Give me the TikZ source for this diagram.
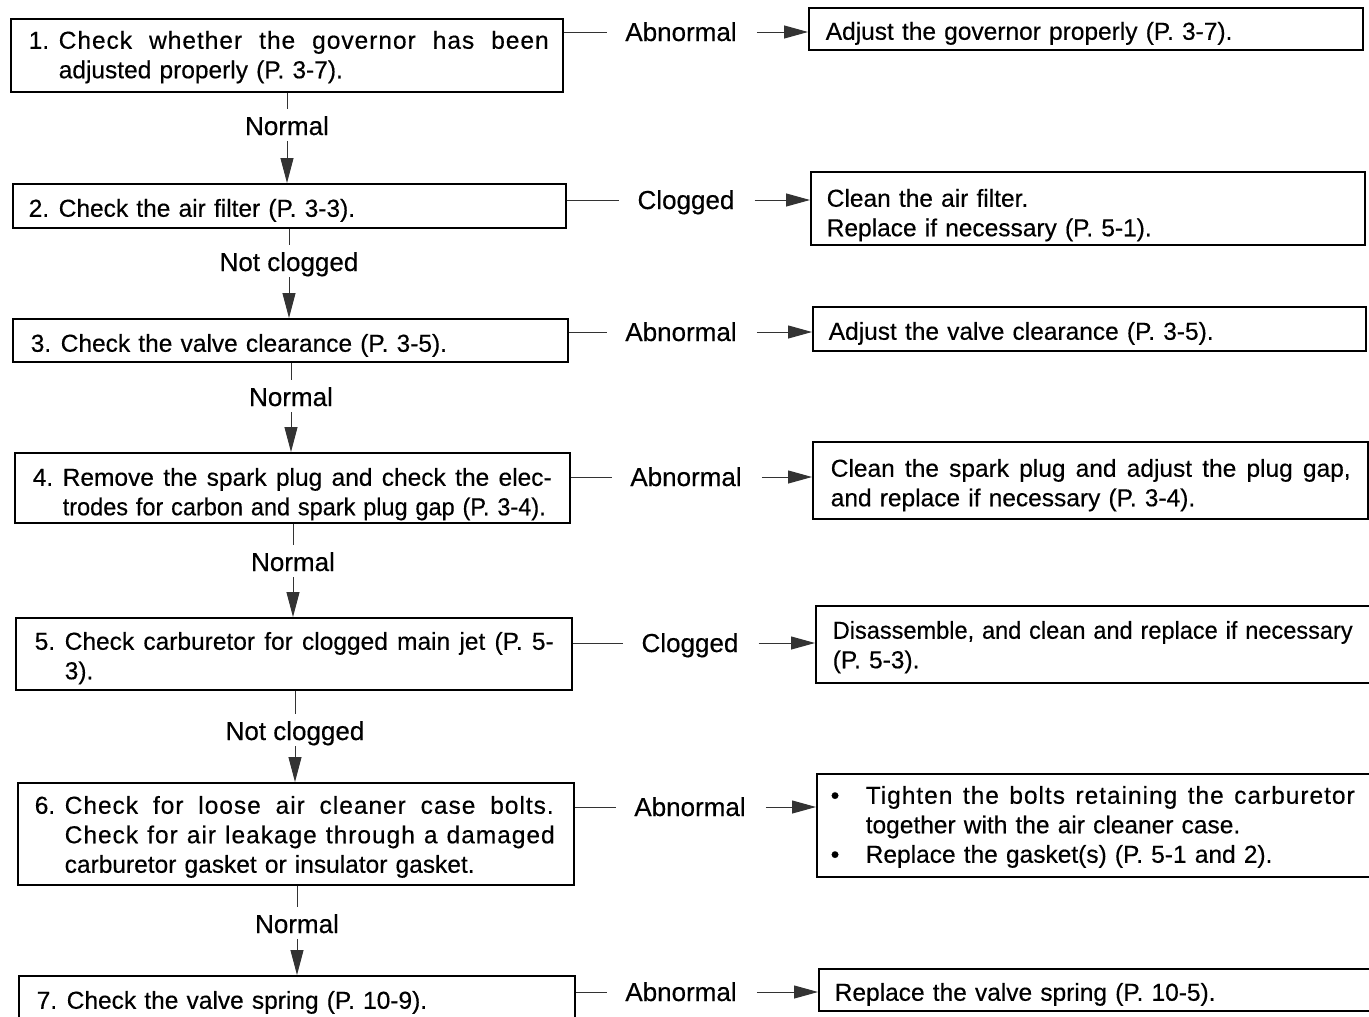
\documentclass[tikz,border=0pt]{standalone}
\usepackage{fontspec}
\setmainfont{Liberation Sans}
\newfontfamily\tf{Liberation Sans}[FakeBold=0.4]
\usetikzlibrary{arrows.meta}
\newcommand\fs{\tf\fontsize{24.5}{29.5}\selectfont}
\newcommand\fl{\tf\fontsize{26}{30}\selectfont}
\newcommand\numitem[2]{\makebox[30pt][l]{#1}\begin{tabular}[t]{@{}l@{}}#2\end{tabular}}
\newcommand\J[2]{{\spaceskip=0.278em plus 1fil\relax\xspaceskip=\spaceskip\hbox to #1pt{#2}}}
\newcommand\LS[1]{{\addfontfeature{LetterSpace=4}#1}}
\newcommand\F[2]{\resizebox{#1pt}{\height}{#2}}
\newcommand\bul{\makebox[35pt][l]{\textbullet}}
\begin{document}
\begin{tikzpicture}[x=1pt,y=-1pt,
  box/.style={draw, line width=1.5pt, rectangle, anchor=north west, inner sep=0pt, align=left, font=\fs},
  lab/.style={inner sep=0pt, text height=18pt, text depth=0pt, font=\fl},
  conn/.style={draw=black!80, line width=1pt},
  harr/.style={conn, -{Triangle[length=24pt,width=13pt]}},
  varr/.style={conn, -{Triangle[length=25pt,width=13pt]}}]
\useasboundingbox (0,0) rectangle (1369,1017);
\clip (0,0) rectangle (1369,1017);
\fill[white] (0,0) rectangle (1369,1017);

% left boxes
\node[box, text width=552pt, text height=30pt, text depth=43pt] (b1) at (10,18)
  {\hspace*{18pt}\numitem{1.}{\J{490}{\LS{Check whether the governor has been}}\\adjusted properly (P. 3-7).}};
\node[box, text width=553pt, text height=33pt, text depth=11pt] (b2) at (12,183)
  {\hspace*{16pt}\numitem{2.}{Check the air filter (P. 3-3).}};
\node[box, text width=555pt, text height=33pt, text depth=10pt] (b3) at (12,318)
  {\hspace*{18pt}\numitem{3.}{Check the valve clearance (P. 3-5).}};
\node[box, text width=555pt, text height=33pt, text depth=37pt] (b4) at (14,452)
  {\hspace*{18pt}\numitem{4.}{\J{489}{Remove the spark plug and check the elec-}\\\F{483}{trodes for carbon and spark plug gap (P. 3-4).}}};
\node[box, text width=556pt, text height=32pt, text depth=40pt] (b5) at (15,617)
  {\hspace*{19pt}\numitem{5.}{\J{489}{Check carburetor for clogged main jet (P. 5-}\\3).}};
\node[box, text width=556pt, text height=31pt, text depth=71pt] (b6) at (17,782)
  {\hspace*{17pt}\numitem{6.}{\J{489}{\LS{Check for loose air cleaner case bolts.}}\\\J{490}{\LS{Check for air leakage through a damaged}}\\carburetor gasket or insulator gasket.}};
\node[box, text width=556pt, text height=33pt, text depth=17pt] (b7) at (18,975)
  {\hspace*{18pt}\numitem{7.}{Check the valve spring (P. 10-9).}};

% right boxes
\node[box, text width=554pt, text height=32pt, text depth=10pt] (r1) at (808,7)
  {\hspace*{17pt}Adjust the governor properly (P. 3-7).};
\node[box, text width=554pt, text height=35pt, text depth=38pt] (r2) at (810,171)
  {\hspace*{16pt}\begin{tabular}[t]{@{}l@{}}Clean the air filter.\\Replace if necessary (P. 5-1).\end{tabular}};
\node[box, text width=553pt, text height=33pt, text depth=11pt] (r3) at (812,306)
  {\hspace*{16pt}Adjust the valve clearance (P. 3-5).};
\node[box, text width=555pt, text height=35pt, text depth=42pt] (r4) at (812,441)
  {\hspace*{18pt}\begin{tabular}[t]{@{}l@{}}\J{520}{Clean the spark plug and adjust the plug gap,}\\and replace if necessary (P. 3-4).\end{tabular}};
\node[box, text width=556pt, text height=33pt, text depth=44pt] (r5) at (815,605)
  {\hspace*{17pt}\begin{tabular}[t]{@{}l@{}}\F{520}{Disassemble, and clean and replace if necessary}\\(P. 5-3).\end{tabular}};
\node[box, text width=556pt, text height=30pt, text depth=73pt] (r6) at (816,773)
  {\hspace*{14pt}\begin{tabular}[t]{@{}l@{}l@{}}\bul & \J{489}{\LS{Tighten the bolts retaining the carburetor}}\\ & together with the air cleaner case.\\ \bul & Replace the gasket(s) (P. 5-1 and 2).\end{tabular}};
\node[box, text width=556pt, text height=32pt, text depth=10pt] (r7) at (818,968)
  {\hspace*{16pt}Replace the valve spring (P. 10-5).};

% horizontal labels
\node[lab] (h1) at (681,32) {Abnormal};
\node[lab] (h2) at (686,200) {Clogged};
\node[lab] (h3) at (681,332) {Abnormal};
\node[lab] (h4) at (686,477) {Abnormal};
\node[lab] (h5) at (690,643) {Clogged};
\node[lab] (h6) at (690,807) {Abnormal};
\node[lab] (h7) at (681,992) {Abnormal};

% vertical labels
\node[lab] (v1) at (287,126) {Normal};
\node[lab] (v2) at (289,262) {Not clogged};
\node[lab] (v3) at (291,397) {Normal};
\node[lab] (v4) at (293,562) {Normal};
\node[lab] (v5) at (295,731) {Not clogged};
\node[lab] (v6) at (297,924) {Normal};

% horizontal connectors
\foreach \b/\h/\r in {b1/h1/r1, b2/h2/r2, b3/h3/r3, b4/h4/r4, b5/h5/r5, b6/h6/r6, b7/h7/r7}{
  \draw[conn, shorten >=18pt] (\b.east |- \h.west) -- (\h.west);
  \draw[harr, shorten <=20pt] (\h.east) -- (\r.west |- \h.east);
}
% vertical connectors
\foreach \a/\v/\c in {b1/v1/b2, b2/v2/b3, b3/v3/b4, b4/v4/b5, b5/v5/b6, b6/v6/b7}{
  \draw[conn, shorten >=8pt] (\v |- \a.south) -- (\v.north);
  \draw[varr, shorten <=6pt] (\v.south) -- (\v |- \c.north);
}
\end{tikzpicture}
\end{document}
